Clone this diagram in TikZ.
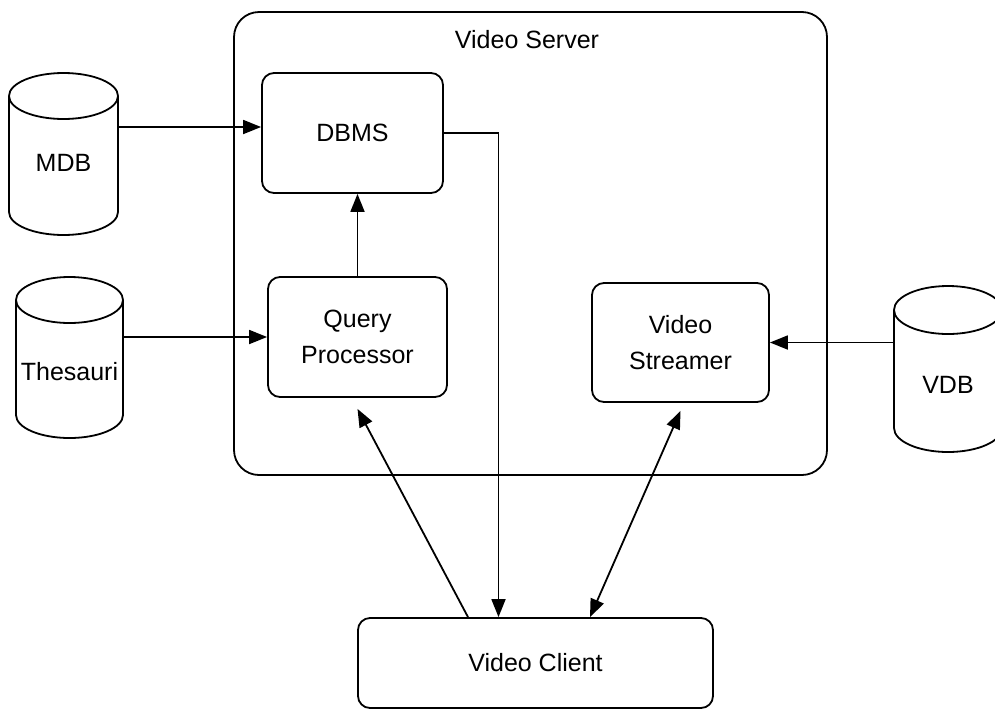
\documentclass[tikz,border=0pt]{standalone}
\usepackage{fontspec}
\setmainfont{Liberation Sans}
\usetikzlibrary{arrows.meta,calc}
\newcommand\dbcyl[5]{%
  \pgfmathsetmacro\cylcx{(#1+#2)/2}%
  \pgfmathsetmacro\cylrx{(#2-#1)/2}%
  \draw[ln,fill=white] (\cylcx,#3) ellipse [x radius=\cylrx, y radius=#5];
  \draw[ln] (#1,#3) -- (#1,#4) .. controls (#1,#4+0.5523*#5) and (\cylcx-0.5523*\cylrx,#4+#5) .. (\cylcx,#4+#5) .. controls (\cylcx+0.5523*\cylrx,#4+#5) and (#2,#4+0.5523*#5) .. (#2,#4) -- (#2,#3);
}
\begin{document}
\begin{tikzpicture}[x=1pt,y=-1pt,
  every node/.style={font=\fontsize{25}{36}\selectfont},
  box/.style={draw, line width=1.8pt, rounded corners=12pt, align=center, inner sep=0pt},
  ln/.style={line width=1.8pt},
  arr/.style={ln, -{Triangle[length=18pt,width=14pt]}},
  darr/.style={ln, {Triangle[length=18pt,width=14pt]}-{Triangle[length=18pt,width=14pt]}},
  lbl/.style={inner sep=0pt}
]
\useasboundingbox (0,0) rectangle (995,710);
% outer server box
\node (vsrv) at (530.5,243.5) [draw, line width=1.8pt, rounded corners=25pt, minimum width=593pt, minimum height=463pt] {};
\node (vslab) at (527,40) {Video Server};
% inner boxes
\node (dbms) at (352.5,133) [box, minimum width=181pt, minimum height=120pt] {DBMS};
\node (qp) at (357.5,337) [box, minimum width=179pt, minimum height=120pt] {Query\\Processor};
\node (vs) at (680.5,342.5) [box, minimum width=177pt, minimum height=119pt] {Video\\Streamer};
\node (vc) at (535.5,663) [box, minimum width=355pt, minimum height=90pt] {Video Client};
% cylinders
\dbcyl{9}{118}{96}{212}{23}
\dbcyl{16}{123}{300}{415}{23}
\begin{scope}
\clip (0,0) rectangle (995,710);
\dbcyl{894}{1002}{310}{428}{24}
\end{scope}
\node (mdb) at (63.5,163) [lbl, minimum width=109pt] {MDB};
\node (th) at (69.5,372) [lbl, minimum width=107pt] {Thesauri};
\node (vdb) at (948,385) [lbl, minimum width=108pt] {VDB};
% helper coordinates
\coordinate (dbin) at ([yshift=6pt]dbms.west);
\coordinate (vcin) at ([xshift=-37pt]vc.north);
\coordinate (vcl) at ([xshift=-67.5pt]vc.north);
\coordinate (vcr) at ([xshift=54.5pt]vc.north);
\coordinate (qpb) at ([yshift=-11pt]qp.south);
\coordinate (vsb) at ([yshift=-8pt]vs.south);
% connectors
\draw[arr] (mdb.east |- dbin) -- (dbin);
\draw[arr] (th.east |- qp.west) -- (qp.west);
\draw[arr] (qp.north) -- (qp.north |- dbms.south);
\draw[arr] (dbms.east) -| (vcin);
\draw[arr] (vcl) -- (qpb);
\draw[darr] (vcr) -- (vsb);
\draw[arr] (vdb.west |- vs.east) -- (vs.east);
\end{tikzpicture}
\end{document}
